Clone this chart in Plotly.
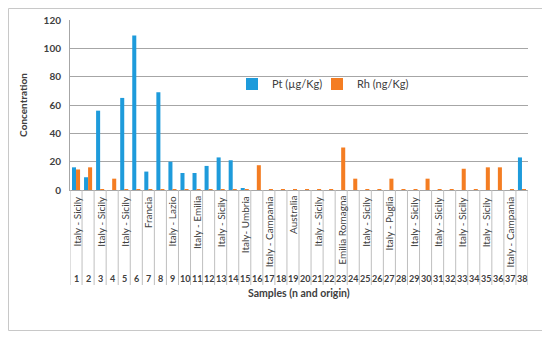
import plotly.graph_objects as go

samples = list(range(1, 39))
pt = [16, 9, 56, 0, 65, 109, 13, 69, 20, 12, 12, 17, 23, 21, 1, 0,
      0, 0, 0, 0, 0, 0, 0, 0, 0, 0, 0, 0, 0, 0, 0, 0, 0, 0, 0, 0, 0, 23]
rh = [14.5, 16, 0.5, 8, 0.5, 0.5, 0.5, 0.5, 0.5, 0.5, 0.5, 0.5, 0.5, 0.5, 0.5, 17.5,
      0.5, 0.5, 0.5, 0.5, 0.5, 0.5, 30, 8, 0.5, 0.5, 8, 0.5, 0.5, 8, 0.5, 0.5, 15, 0.5, 16, 16, 0.5, 0.5]
origins = {1: "Italy - Sicily", 3: "Italy - Sicily", 5: "Italy - Sicily", 7: "Francia",
           9: "Italy - Lazio", 11: "Italy - Emilia", 13: "Italy - Sicily", 15: "Italy- Umbria",
           17: "Italy - Campania", 19: "Australia", 21: "Italy - Sicily", 23: "Emilia Romagna",
           25: "Italy - Sicily", 27: "Italy - Puglia", 29: "Italy - Sicily", 31: "Italy - Sicily",
           33: "Italy - Sicily", 35: "Italy - Sicily", 37: "Italy - Campania"}

FONT = "Lato"
TXT = "#404040"

# page body has an 8px margin; figure coordinates = visible - 8
OFF = 8
W, H = 542, 330
L, T = 70 - OFF, 20 - OFF
R = W - (528 - OFF)
B = H - (190 - OFF)
pw, ph = W - L - R, H - T - B
def px(v): return (v - OFF - L) / pw
def py(v): return (H - B - (v - OFF)) / ph

fig = go.Figure()
fig.add_trace(go.Bar(x=samples, y=pt, name="Pt (µg/Kg)", marker_color="#1E9BDB", marker_line_width=0,
                     legend="legend"))
fig.add_trace(go.Bar(x=samples, y=rh, name="Rh (ng/Kg)", marker_color="#F47D22", marker_line_width=0,
                     legend="legend2"))

shapes = []
shapes.append(dict(type="rect", xref="paper", yref="paper", x0=px(8.5), x1=px(542.5), y0=py(330.5), y1=py(8.5),
                   line=dict(color="#C8C8C8", width=1), layer="above"))
for i in range(0, 39):
    shapes.append(dict(type="line", xref="x", yref="paper", x0=i + 0.5, x1=i + 0.5, y0=0, y1=py(285),
                       line=dict(color="#BFBFBF", width=1)))

annotations = []
for s in samples:
    annotations.append(dict(x=s, y=py(278), xref="x", yref="paper", text=f"<b>{s}</b>", showarrow=False,
                            font=dict(family=FONT, size=9, color=TXT), xanchor="center", yanchor="middle"))
for s, t in origins.items():
    annotations.append(dict(x=s, y=py(194), xref="x", yref="paper", text=t, showarrow=False, textangle=-90,
                            font=dict(family=FONT, size=10, color=TXT), xanchor="center", yanchor="top"))
annotations.append(dict(x=0.5, y=py(293), xref="paper", yref="paper", text="<b>Samples (n and origin)</b>",
                        showarrow=False, font=dict(family=FONT, size=10.5, color=TXT), yanchor="middle"))

leg_common = dict(orientation="h", xanchor="left", yanchor="middle",
                  font=dict(family=FONT, size=11, color=TXT), bgcolor="rgba(0,0,0,0)",
                  itemwidth=30, borderwidth=0)

fig.update_layout(
    width=W, height=H, margin=dict(l=L, r=R, t=T, b=B, autoexpand=False),
    paper_bgcolor="white", plot_bgcolor="white",
    barmode="group", bargap=0.33, bargroupgap=0,
    font=dict(family=FONT, size=10, color=TXT),
    showlegend=True,
    legend=dict(x=px(232), y=py(84), **leg_common),
    legend2=dict(x=px(317), y=py(84), **leg_common),
    xaxis=dict(range=[0.5, 38.5], showticklabels=False, ticks="", showgrid=False, automargin=False,
               showline=True, linecolor="#A6A6A6", linewidth=1, zeroline=False),
    yaxis=dict(range=[0, 120], dtick=20, tickformat="d", showgrid=True, gridcolor="#A6A6A6", gridwidth=1,
               showline=True, linecolor="#A6A6A6", zeroline=False, ticks="", automargin=False,
               tickfont=dict(family=FONT, size=10, color=TXT),
               title=dict(text="<b>Concentration</b>", font=dict(family=FONT, size=10, color=TXT), standoff=14)),
    shapes=shapes, annotations=annotations,
)
fig.update_yaxes(ticklabelstandoff=6, tickprefix="<b>", ticksuffix="</b>")

fig.write_html("out.html")
